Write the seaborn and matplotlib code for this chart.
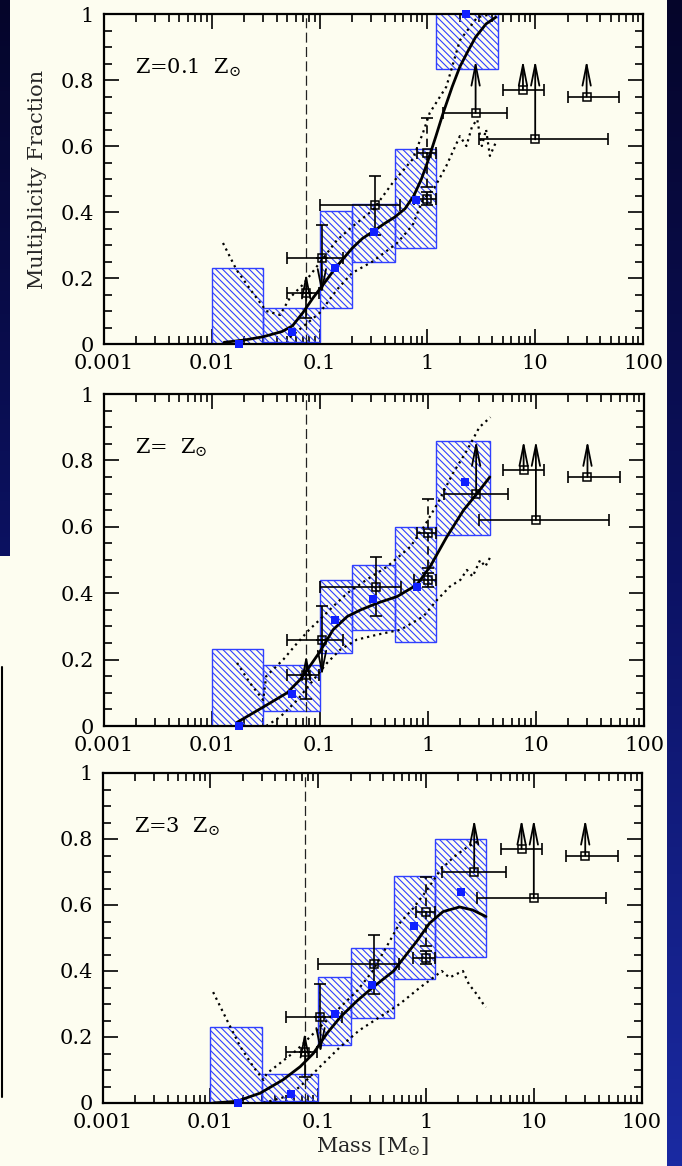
import numpy as np
import matplotlib
matplotlib.use('Agg')
import matplotlib.pyplot as plt
import seaborn as sns
from matplotlib.patches import Rectangle
from matplotlib.colors import LinearSegmentedColormap
from matplotlib.ticker import LogLocator, MultipleLocator, NullFormatter

sns.set_style('ticks')
plt.rcParams['font.family'] = ['DejaVu Serif']
plt.rcParams['mathtext.fontset'] = 'dejavuserif'
plt.rcParams['hatch.linewidth'] = 0.8

CREAM = '#fdfdf0'
BLUE = '#1020ff'
BOX_EDGE = '#3040ff'

# observed multiplicity, same in every panel
obs_mass = [0.075, 0.105, 0.33, 1.0, 1.0, 2.8, 7.7, 10.0, 30.0]
obs_frac = [0.155, 0.26, 0.42, 0.58, 0.44, 0.70, 0.77, 0.62, 0.75]
obs_mlo = [0.05, 0.05, 0.10, 0.80, 0.75, 1.4, 5.0, 3.0, 20.0]
obs_mhi = [0.098, 0.165, 0.56, 1.2, 1.2, 5.5, 12.0, 47.0, 60.0]
obs_flo = [0.08, 0.26, 0.33, 0.475, 0.42, 0.70, 0.77, 0.62, 0.75]
obs_fhi = [0.155, 0.36, 0.51, 0.685, 0.46, 0.70, 0.77, 0.62, 0.75]
solid_err = [0, 1, 2, 4]
dashed_err = [3]
# lower limits (arrows up) and one upper limit (arrow down)
up_mass = [0.075, 2.8, 7.7, 10.0, 30.0]
up_from = [0.155, 0.70, 0.77, 0.62, 0.75]
up_to = [0.215, 0.86, 0.86, 0.86, 0.86]
down_mass = [0.105]
down_from = [0.26]
down_to = [0.15]
hb_limit = 0.075

panel_labels = ['Z=0.1  Z$_{\\odot}$', 'Z=  Z$_{\\odot}$', 'Z=3  Z$_{\\odot}$']

# simulated bins (hatched boxes)
bin_lo = [0.01, 0.03, 0.1, 0.2, 0.5, 1.2]
bin_hi = [[0.03, 0.1, 0.2, 0.5, 1.2, 4.5],
          [0.03, 0.1, 0.2, 0.5, 1.2, 3.8],
          [0.03, 0.1, 0.2, 0.5, 1.2, 3.6]]
bin_bot = [[0.0, 0.005, 0.11, 0.25, 0.29, 0.833],
           [0.0, 0.045, 0.22, 0.29, 0.253, 0.575],
           [0.0, 0.005, 0.175, 0.258, 0.375, 0.443]]
bin_top = [[0.23, 0.109, 0.404, 0.424, 0.59, 1.02],
           [0.232, 0.184, 0.44, 0.485, 0.60, 0.858],
           [0.23, 0.088, 0.383, 0.47, 0.688, 0.80]]

# simulated values (blue squares)
sim_mass = [[0.018, 0.056, 0.14, 0.32, 0.79, 2.3],
            [0.018, 0.055, 0.14, 0.31, 0.8, 2.2],
            [0.018, 0.056, 0.143, 0.315, 0.78, 2.1]]
sim_frac = [[0.0, 0.035, 0.23, 0.34, 0.437, 1.0],
            [0.0, 0.097, 0.32, 0.383, 0.42, 0.735],
            [0.0, 0.028, 0.27, 0.357, 0.535, 0.64]]

# smooth fits (solid)
fit_mass = [[0.013, 0.02, 0.03, 0.045, 0.056, 0.07, 0.087, 0.108, 0.14, 0.2, 0.25, 0.31, 0.4, 0.5, 0.62, 0.75, 0.88, 1.0, 1.2, 1.4, 1.7, 2.0, 2.4, 2.8, 3.5, 4.3],
            [0.017, 0.03, 0.05, 0.066, 0.081, 0.1, 0.133, 0.18, 0.24, 0.34, 0.52, 0.79, 1.05, 1.5, 2.14, 2.85, 3.75],
            [0.0106, 0.0175, 0.029, 0.047, 0.068, 0.09, 0.12, 0.16, 0.23, 0.32, 0.5, 0.82, 1.08, 1.44, 2.05, 2.7, 3.6]]
fit_frac = [[0.005, 0.012, 0.022, 0.038, 0.055, 0.095, 0.14, 0.18, 0.23, 0.29, 0.32, 0.34, 0.365, 0.385, 0.41, 0.45, 0.50, 0.55, 0.63, 0.70, 0.78, 0.84, 0.89, 0.93, 0.97, 0.99],
            [0.01, 0.057, 0.10, 0.14, 0.18, 0.223, 0.29, 0.33, 0.35, 0.37, 0.39, 0.425, 0.48, 0.57, 0.65, 0.70, 0.75],
            [0.0, 0.005, 0.03, 0.07, 0.11, 0.15, 0.21, 0.26, 0.31, 0.35, 0.40, 0.49, 0.545, 0.58, 0.594, 0.585, 0.565]]

# dotted envelopes
upper_mass = [[0.0127, 0.017, 0.024, 0.032, 0.043, 0.053, 0.07, 0.087, 0.108, 0.145, 0.2, 0.31, 0.48, 0.73, 0.91, 1.05, 1.5, 2.0, 2.9, 4.0],
              [0.0172, 0.0226, 0.03, 0.032, 0.046, 0.062, 0.08, 0.1, 0.133, 0.18, 0.27, 0.42, 0.69, 0.92, 1.23, 1.7, 2.3, 3.0, 3.8],
              [0.0106, 0.0143, 0.019, 0.025, 0.031, 0.0335, 0.044, 0.063, 0.09, 0.12, 0.16, 0.23, 0.32, 0.46, 0.57, 0.76, 1.02, 1.35, 1.8, 2.4, 3.2]]
upper_frac = [[0.306, 0.224, 0.155, 0.10, 0.088, 0.14, 0.18, 0.22, 0.26, 0.315, 0.355, 0.405, 0.49, 0.56, 0.64, 0.70, 0.78, 0.92, 0.99, 1.0],
              [0.19, 0.13, 0.078, 0.15, 0.20, 0.25, 0.29, 0.32, 0.36, 0.40, 0.44, 0.48, 0.54, 0.60, 0.67, 0.76, 0.83, 0.90, 0.93],
              [0.336, 0.25, 0.17, 0.11, 0.07, 0.09, 0.12, 0.16, 0.21, 0.25, 0.29, 0.34, 0.40, 0.49, 0.545, 0.59, 0.645, 0.705, 0.745, 0.775, 0.797]]
lower_mass = [[0.053, 0.1, 0.145, 0.2, 0.31, 0.52, 0.73, 0.9, 1.17, 1.5, 2.0, 2.3, 2.6, 2.9, 3.2, 3.5, 3.8, 4.3],
              [0.032, 0.043, 0.062, 0.088, 0.117, 0.155, 0.22, 0.34, 0.56, 0.91, 1.22, 1.6, 2.0, 2.3, 2.6, 3.05, 3.4, 3.8],
              [0.031, 0.051, 0.068, 0.104, 0.16, 0.24, 0.37, 0.57, 0.88, 1.17, 1.4, 1.65, 1.9, 2.2, 2.5, 2.95, 3.4, 3.6]]
lower_frac = [[0.02, 0.094, 0.165, 0.215, 0.25, 0.305, 0.36, 0.435, 0.475, 0.54, 0.63, 0.60, 0.66, 0.68, 0.60, 0.65, 0.57, 0.61],
              [0.0, 0.027, 0.078, 0.14, 0.19, 0.23, 0.26, 0.275, 0.29, 0.33, 0.38, 0.42, 0.44, 0.47, 0.45, 0.50, 0.48, 0.51],
              [0.0, 0.02, 0.05, 0.11, 0.17, 0.22, 0.26, 0.30, 0.35, 0.38, 0.40, 0.38, 0.39, 0.40, 0.36, 0.33, 0.30, 0.29]]

xtick_vals = [0.001, 0.01, 0.1, 1, 10, 100]
xtick_labels = ['0.001', '0.01', '0.1', '1', '10', '100']
ytick_vals = [0, 0.2, 0.4, 0.6, 0.8, 1.0]
ytick_labels = ['0', '0.2', '0.4', '0.6', '0.8', '1']

fig = plt.figure(figsize=(6.82, 11.66), dpi=100)
fig.patch.set_facecolor(CREAM)

# slide background peeking out at the edges
bg = fig.add_axes([0, 0, 1, 1], zorder=-10)
slide = LinearSegmentedColormap.from_list('slide', ['#05052a', '#0c1264', '#1a2aa2'])
bg.imshow(np.linspace(0, 1, 256).reshape(-1, 1), cmap=slide, aspect='auto',
          extent=[0, 682, 1166, 0])
bg.add_patch(Rectangle((10, 0), 657, 556, color=CREAM, lw=0))
bg.add_patch(Rectangle((0, 556), 667, 610, color=CREAM, lw=0))
bg.plot([1.5, 1.5], [667, 1097], color='k', lw=1.5)
bg.set_xlim(0, 682)
bg.set_ylim(1166, 0)
bg.axis('off')

positions = [[104 / 682, 822 / 1166, 539 / 682, 330 / 1166],
             [103.5 / 682, 440 / 1166, 540.5 / 682, 332 / 1166],
             [102.6 / 682, 63 / 1166, 539 / 682, 330 / 1166]]

m = np.array(obs_mass)
f = np.array(obs_frac)
xerr = np.array([m - np.array(obs_mlo), np.array(obs_mhi) - m])
yerr = np.array([f - np.array(obs_flo), np.array(obs_fhi) - f])

arrow_kw = dict(arrowstyle='->,head_length=1.5,head_width=0.3',
                color='k', lw=1.3, shrinkA=0, shrinkB=0)

for k in range(3):
    ax = fig.add_axes(positions[k])
    ax.set_facecolor('none')
    ax.set_xscale('log')

    for lo, hi, b, t in zip(bin_lo, bin_hi[k], bin_bot[k], bin_top[k]):
        ax.add_patch(Rectangle((lo, b), hi - lo, t - b, fill=False, hatch='\\\\\\\\\\',
                               edgecolor=BOX_EDGE, lw=1.0, zorder=1))

    ax.axvline(hb_limit, color='#222222', lw=0.9, dashes=(8, 3.5), zorder=2)

    sns.lineplot(x=upper_mass[k], y=upper_frac[k], ax=ax, color='k', lw=1.6,
                 linestyle=(0, (1, 1.8)), sort=False, estimator=None, zorder=3)
    sns.lineplot(x=lower_mass[k], y=lower_frac[k], ax=ax, color='k', lw=1.6,
                 linestyle=(0, (1, 1.8)), sort=False, estimator=None, zorder=3)
    sns.lineplot(x=fit_mass[k], y=fit_frac[k], ax=ax, color='k', lw=2.0,
                 sort=False, estimator=None, zorder=4)

    # observations
    ax.errorbar(m, f, xerr=xerr, fmt='none', ecolor='k', elinewidth=1.2,
                capsize=4, capthick=1.2, zorder=5)
    ax.errorbar(m[solid_err], f[solid_err], yerr=yerr[:, solid_err], fmt='none',
                ecolor='k', elinewidth=1.2, capsize=4, capthick=1.2, zorder=5)
    eb = ax.errorbar(m[dashed_err], f[dashed_err], yerr=yerr[:, dashed_err], fmt='none',
                     ecolor='k', elinewidth=1.2, capsize=4, capthick=1.2, zorder=5)
    eb[2][0].set_linestyle((0, (5, 3)))
    ax.plot(m, f, 's', ms=6, mfc='none', mec='k', mew=1.1, ls='none', zorder=6)

    for x0, y0, y1 in zip(up_mass, up_from, up_to):
        ax.annotate('', xy=(x0, y1), xytext=(x0, y0), zorder=6, arrowprops=arrow_kw)
    for x0, y0, y1 in zip(down_mass, down_from, down_to):
        ax.annotate('', xy=(x0, y1), xytext=(x0, y0), zorder=6, arrowprops=arrow_kw)

    sns.scatterplot(x=sim_mass[k], y=sim_frac[k], ax=ax, marker='s', s=30,
                    color=BLUE, edgecolor=BLUE, linewidth=0, zorder=7, clip_on=False)

    ax.set_xlim(0.001, 100)
    ax.set_ylim(0, 1)
    ax.set_xticks(xtick_vals)
    ax.set_xticklabels(xtick_labels)
    ax.xaxis.set_minor_locator(LogLocator(base=10, subs=np.arange(2, 10), numticks=20))
    ax.xaxis.set_minor_formatter(NullFormatter())
    ax.set_yticks(ytick_vals)
    ax.set_yticklabels(ytick_labels)
    ax.yaxis.set_minor_locator(MultipleLocator(0.05))
    ax.tick_params(which='both', direction='in', top=True, right=True,
                   width=1.2, color='k', labelsize=15, labelcolor='k')
    ax.tick_params(which='major', length=11, pad=7)
    ax.tick_params(which='minor', length=6)
    for sp in ax.spines.values():
        sp.set_visible(True)
        sp.set_linewidth(1.6)
        sp.set_color('k')
    ax.set_xlabel('')
    ax.set_ylabel('')

    ax.text(0.058, 0.82, panel_labels[k], transform=ax.transAxes, fontsize=15,
            color='k', ha='left', va='baseline')

    if k == 0:
        ax.set_ylabel('Multiplicity Fraction', fontsize=15, labelpad=10)
    if k == 2:
        ax.set_xlabel('Mass [M$_{\\odot}$]', fontsize=15, labelpad=3)

fig.savefig('out.png', dpi=100, facecolor=fig.get_facecolor())
